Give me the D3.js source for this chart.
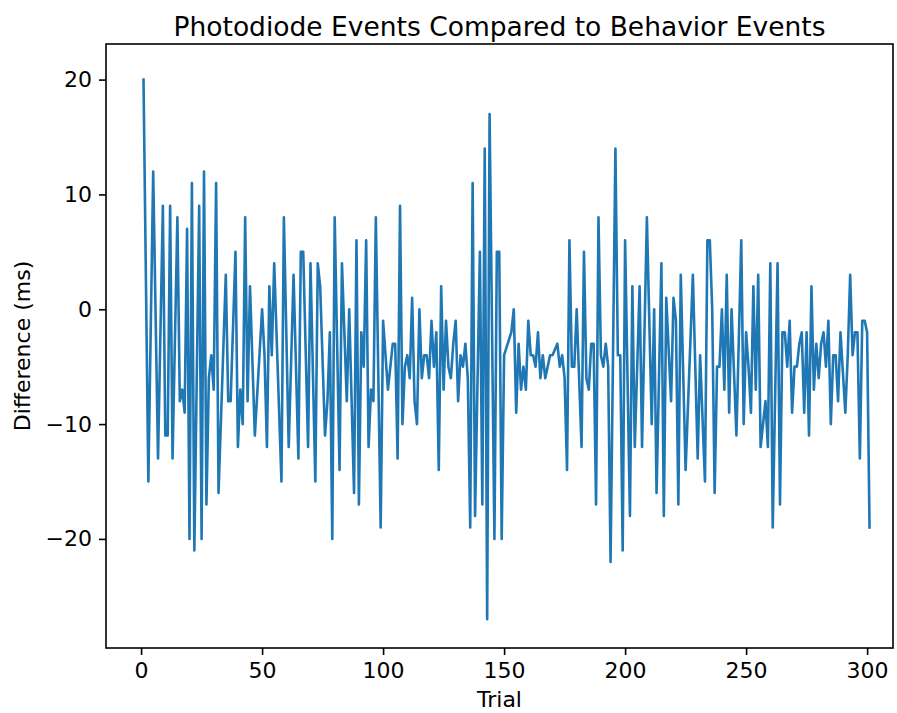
<!DOCTYPE html>
<html>
<head>
<meta charset="utf-8">
<script src="https://cdn.jsdelivr.net/npm/d3@7"></script>
<style>
  body { margin: 0; background: #fff; }
  text { font-family: "DejaVu Sans", sans-serif; fill: #000; }
</style>
</head>
<body>
<div id="chart"></div>
<script>
// trial numbers and photodiode - behavior difference (ms)
var trials = [1, 3, 5, 7, 9, 10, 11, 12, 13, 15, 16, 17, 18, 19, 20, 21, 22, 24, 25, 26, 27, 28, 29, 30, 31, 32,
  35, 36, 37, 39, 40, 41, 42, 43, 44, 45, 47, 50, 51, 52, 53, 54, 55, 58, 59, 61, 63, 65, 66,
  67, 69, 70, 72, 73, 74, 76, 77, 78, 79, 80, 82, 83, 85, 86, 88, 89, 90, 91, 92, 93, 94, 95, 96, 97, 99,
  100, 102, 103, 104, 105, 106, 107, 108, 109, 110, 111, 112, 113, 114, 115, 116, 117, 118, 119, 120,
  121, 122, 123, 124, 125, 126, 127, 128, 129, 130, 131, 132, 133, 134,
  135, 136, 137, 138, 140, 141, 142, 143, 144, 146, 147, 148, 149, 150, 153, 154, 155, 156, 157, 158, 159,
  160, 161, 162, 163, 164, 165, 166, 167,
  168, 169, 170, 172, 173, 174, 175, 176, 177, 178, 179, 180, 182, 183, 184, 185, 186, 187, 188, 189,
  190, 191, 192, 193, 194, 196, 197, 198, 199, 200,
  202, 203, 204, 206, 207, 209, 211, 212, 213, 215, 216, 217, 219, 220, 221, 222, 223, 225, 228, 230,
  231, 233, 234, 235, 236, 237, 238, 239, 240, 241, 242, 243, 244, 246, 248, 249, 250, 251, 252, 253,
  254, 255, 256, 258, 259, 260, 261, 263, 264, 265, 266, 267, 268,
  269, 270, 271, 272, 273, 274, 275, 276, 277, 278, 279, 280, 281, 282, 283, 284, 285, 286, 287, 288,
  289, 291, 292, 293, 294, 295, 296, 297, 298, 299, 300, 301];

var diffs = [20, -15, 12, -13, 9, -11, -11, 9, -13, 8, -8, -7, -9, 7, -20, 11, -21, 9, -20, 12, -17, -6, -4, -7, 11, -16,
  3, -8, -8, 5, -12, -7, -10, 8, -8, 2, -11, 0, -4, -12, 2, -4, 4, -15, 8, -12, 3, -13, 5,
  5, -12, 4, -15, 4, 2, -11, -8, -2, -20, 8, -14, 4, -8, 0, -16, 6, -17, -2, -5, 6, -12, -7, -8, 8, -19,
  -1, -7, -5, -3, -3, -13, 9, -10, -5, -4, -6, 1, -8, -10, 0, -6, -4, -4, -6, -1,
  -5, -2, -14, 2, -7, -1, -5, -6, -3, -1, -8, -4, -5, -3,
  -6, -19, 11, -18, 5, -17, 14, -27, 17, -20, 5, 5, -20, -4, -2, 0, -9, -3, -7, -5, -7,
  -1, -4, -4, -5, -2, -6, -4, -6,
  -5, -4, -4, -3, -5, -4, -6, -14, 6, -5, -5, 0, -12, 5, -6, -7, -3, -3, -17, 8,
  -4, -5, -3, -5, -22, 14, -4, -4, -21, 6,
  -18, 2, -12, 2, -12, 8, -10, 0, -16, 4, -18, 1, -8, 1, -1, -17, 3, -14, 3, -13,
  -4, -15, 6, 6, 0, -16, -5, -5, 0, -7, 3, -9, 0, -11, 6, -10, -2, -5, -9, 2,
  -7, 3, -12, -8, -12, 4, -19, 4, -17, -2, -2, -5, -1,
  -9, -5, -5, -3, -2, -9, -2, -11, 2, -7, -3, -6, -3, -2, -5, -1, -10, -4, -4, -8,
  -2, -9, -4, 3, -4, -2, -2, -13, -1, -1, -2, -19];

var xTicks = [0, 50, 100, 150, 200, 250, 300];
var yTicks = [-20, -10, 0, 10, 20];

var titleText = "Photodiode Events Compared to Behavior Events";
var xLabelText = "Trial";
var yLabelText = "Difference (ms)";

// svg size is the whole window
var svgWidth = 897;
var svgHeight = 713;

// plot box position inside the svg
var chartMargin = {
  top: 44,
  right: 4,
  bottom: 65,
  left: 106
};

var chartWidth = svgWidth - chartMargin.left - chartMargin.right;
var chartHeight = svgHeight - chartMargin.top - chartMargin.bottom;

var svg = d3.select("#chart")
  .append("svg")
  .attr("width", svgWidth)
  .attr("height", svgHeight);

var chartGroup = svg.append("g")
  .attr("transform", `translate(${chartMargin.left}, ${chartMargin.top})`);

// axis limits picked to line up with the tick spots of the original
var xLinearScale = d3.scaleLinear()
  .domain([-14.5, 310.7])
  .range([0, chartWidth]);

var yLinearScale = d3.scaleLinear()
  .domain([-29.5, 23.1])
  .range([chartHeight, 0]);

// matplotlib style minus sign
var fmt = function(d) { return String(d).replace("-", "\u2212"); };

var bottomAxis = d3.axisBottom(xLinearScale)
  .tickValues(xTicks)
  .tickSize(7)
  .tickPadding(7)
  .tickFormat(fmt);

var leftAxis = d3.axisLeft(yLinearScale)
  .tickValues(yTicks)
  .tickSize(7)
  .tickPadding(7)
  .tickFormat(fmt);

var xAxis = chartGroup.append("g")
  .attr("transform", `translate(0, ${chartHeight})`)
  .call(bottomAxis);

var yAxis = chartGroup.append("g")
  .call(leftAxis);

// no domain path, the frame rect does the spines
[xAxis, yAxis].forEach(function(ax) {
  ax.select(".domain").remove();
  ax.selectAll("line").attr("stroke", "#000").attr("stroke-width", 1.6);
  ax.selectAll("text")
    .style("font-family", "'DejaVu Sans', sans-serif")
    .style("font-size", "22px")
    .attr("fill", "#000");
});

// the line itself
var points = trials.map(function(t, i) { return [t, diffs[i]]; });

var lineMaker = d3.line()
  .x(d => xLinearScale(d[0]))
  .y(d => yLinearScale(d[1]));

chartGroup.append("path")
  .datum(points)
  .attr("d", lineMaker)
  .attr("fill", "none")
  .attr("stroke", "#1f77b4")
  .attr("stroke-width", 2.6)
  .attr("stroke-linejoin", "round")
  .attr("stroke-linecap", "square");

// frame
chartGroup.append("rect")
  .attr("x", 0)
  .attr("y", 0)
  .attr("width", chartWidth)
  .attr("height", chartHeight)
  .attr("fill", "none")
  .attr("stroke", "#000")
  .attr("stroke-width", 1.6);

// title
svg.append("text")
  .attr("x", chartMargin.left + chartWidth / 2)
  .attr("y", 36)
  .attr("text-anchor", "middle")
  .style("font-size", "26.5px")
  .text(titleText);

// x label
svg.append("text")
  .attr("x", chartMargin.left + chartWidth / 2)
  .attr("y", 707)
  .attr("text-anchor", "middle")
  .style("font-size", "22px")
  .text(xLabelText);

// y label
svg.append("text")
  .attr("transform", "rotate(-90)")
  .attr("x", -(chartMargin.top + chartHeight / 2))
  .attr("y", 30)
  .attr("text-anchor", "middle")
  .style("font-size", "22px")
  .text(yLabelText);
</script>
</body>
</html>
